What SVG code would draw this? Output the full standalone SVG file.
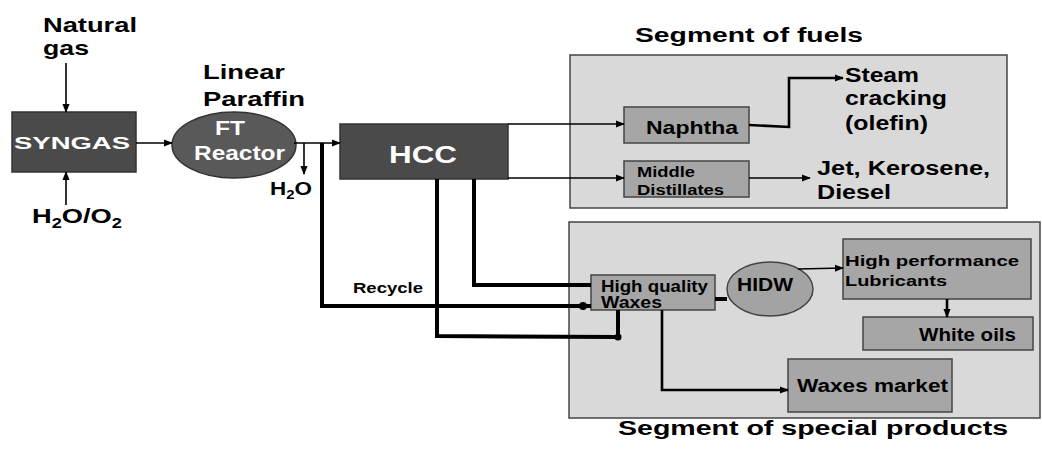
<svg xmlns="http://www.w3.org/2000/svg" width="1042" height="449" viewBox="0 0 1042 449">
<defs>
<marker id="ah" viewBox="0 0 10 10" refX="9" refY="5" markerWidth="5" markerHeight="5" orient="auto" markerUnits="userSpaceOnUse">
<path d="M0,1 L10,5 L0,9 Z" fill="#000"/>
</marker>
<marker id="ah2" viewBox="0 0 10 10" refX="9" refY="5" markerWidth="9" markerHeight="9" orient="auto" markerUnits="userSpaceOnUse">
<path d="M0,1 L10,5 L0,9 Z" fill="#000"/>
</marker>
<style>
text{font-family:"Liberation Sans",Arial,sans-serif;font-weight:bold;fill:#000}
.w{fill:#fff}
.dark{fill:#4a4a4a;stroke:#333;stroke-width:1.5}
.seg{fill:#d9d9d9;stroke:#444;stroke-width:1.5}
.box{fill:#a6a6a6;stroke:#444;stroke-width:1.5}
.thin{fill:none;stroke:#000;stroke-width:1.6}
.mid{fill:none;stroke:#000;stroke-width:2.6}
.thick{fill:none;stroke:#000;stroke-width:4}
</style>
</defs>
<rect width="1042" height="449" fill="#fff"/>

<g id="segment-fuels">
<rect class="seg" x="570" y="55" width="437" height="153"/>
<text x="635" y="42" font-size="20" textLength="228" lengthAdjust="spacingAndGlyphs">Segment of fuels</text>
</g>
<g id="segment-special">
<rect class="seg" x="569" y="222" width="471" height="196"/>
<text x="618" y="435" font-size="20" textLength="390" lengthAdjust="spacingAndGlyphs">Segment of special products</text>
</g>

<g id="natural-gas">
<text x="43" y="32" font-size="21" textLength="94" lengthAdjust="spacingAndGlyphs">Natural</text>
<text x="43" y="55" font-size="21" textLength="46" lengthAdjust="spacingAndGlyphs">gas</text>
</g>
<g id="h2o-o2">
<text x="32" y="223" font-size="21" textLength="90" lengthAdjust="spacingAndGlyphs">H<tspan font-size="14" dy="5">2</tspan><tspan dy="-5">O/O</tspan><tspan font-size="14" dy="5">2</tspan></text>
</g>
<g id="syngas">
<rect class="dark" x="12" y="112" width="124" height="60"/>
<text class="w" x="14" y="149" font-size="17" textLength="116" lengthAdjust="spacingAndGlyphs">SYNGAS</text>
</g>
<g id="ft-reactor">
<text x="203" y="79" font-size="21" textLength="82" lengthAdjust="spacingAndGlyphs">Linear</text>
<text x="203" y="106" font-size="21" textLength="102" lengthAdjust="spacingAndGlyphs">Paraffin</text>
<ellipse cx="234" cy="145" rx="62" ry="33" fill="#595959" stroke="#333" stroke-width="1.5"/>
<text class="w" x="215" y="135" font-size="20" textLength="30" lengthAdjust="spacingAndGlyphs">FT</text>
<text class="w" x="194" y="160" font-size="20" textLength="91" lengthAdjust="spacingAndGlyphs">Reactor</text>
</g>
<g id="h2o">
<text x="270" y="195" font-size="18" textLength="42" lengthAdjust="spacingAndGlyphs">H<tspan font-size="12" dy="4">2</tspan><tspan dy="-4">O</tspan></text>
</g>
<g id="hcc">
<rect class="dark" x="340" y="124" width="168" height="55"/>
<text class="w" x="389" y="163" font-size="24" textLength="68" lengthAdjust="spacingAndGlyphs">HCC</text>
</g>
<g id="naphtha">
<rect class="box" x="624" y="107" width="125" height="36"/>
<text x="646" y="134" font-size="19" textLength="92" lengthAdjust="spacingAndGlyphs">Naphtha</text>
</g>
<g id="middle-distillates">
<rect class="box" x="624" y="161" width="125" height="36"/>
<text x="637" y="177" font-size="14" textLength="58" lengthAdjust="spacingAndGlyphs">Middle</text>
<text x="637" y="195" font-size="14" textLength="87" lengthAdjust="spacingAndGlyphs">Distillates</text>
</g>
<g id="steam-cracking">
<text x="845" y="82" font-size="20" textLength="74" lengthAdjust="spacingAndGlyphs">Steam</text>
<text x="845" y="105" font-size="20" textLength="102" lengthAdjust="spacingAndGlyphs">cracking</text>
<text x="845" y="130" font-size="20" textLength="83" lengthAdjust="spacingAndGlyphs">(olefin)</text>
</g>
<g id="jet-kerosene-diesel">
<text x="817" y="175" font-size="20" textLength="173" lengthAdjust="spacingAndGlyphs">Jet, Kerosene,</text>
<text x="817" y="199" font-size="20" textLength="74" lengthAdjust="spacingAndGlyphs">Diesel</text>
</g>
<g id="recycle">
<text x="353" y="293" font-size="15" textLength="70" lengthAdjust="spacingAndGlyphs">Recycle</text>
</g>
<g id="high-quality-waxes">
<rect class="box" x="591" y="275" width="124" height="35"/>
<text x="601" y="292" font-size="16" textLength="107" lengthAdjust="spacingAndGlyphs">High quality</text>
<text x="601" y="308" font-size="16" textLength="61" lengthAdjust="spacingAndGlyphs">Waxes</text>
</g>
<g id="hidw">
<ellipse cx="770" cy="289" rx="43" ry="27" fill="#a3a3a3" stroke="#444" stroke-width="1.5"/>
<text x="737" y="291" font-size="19" textLength="56" lengthAdjust="spacingAndGlyphs">HIDW</text>
</g>
<g id="lubricants">
<rect class="box" x="843" y="239" width="188" height="60"/>
<text x="845" y="266" font-size="15" textLength="174" lengthAdjust="spacingAndGlyphs">High performance</text>
<text x="845" y="286" font-size="15" textLength="102" lengthAdjust="spacingAndGlyphs">Lubricants</text>
</g>
<g id="white-oils">
<rect class="box" x="863" y="317" width="170" height="33"/>
<text x="919" y="341" font-size="18" textLength="97" lengthAdjust="spacingAndGlyphs">White oils</text>
</g>
<g id="waxes-market">
<rect class="box" x="788" y="359" width="164" height="53"/>
<text x="797" y="392" font-size="18" textLength="151" lengthAdjust="spacingAndGlyphs">Waxes market</text>
</g>

<g id="connectors">
<line class="thin" x1="66" y1="63" x2="66" y2="112" marker-end="url(#ah2)"/>
<line class="thin" x1="66" y1="205" x2="66" y2="172" marker-end="url(#ah2)"/>
<line class="thin" x1="136" y1="143" x2="172" y2="143" marker-end="url(#ah2)"/>
<line class="thin" x1="294" y1="143" x2="340" y2="143" marker-end="url(#ah2)"/>
<line class="thin" x1="304" y1="143" x2="304" y2="174" marker-end="url(#ah2)"/>
<polyline class="thick" points="322,143 322,306 591,306"/>
<circle cx="583" cy="306" r="4" fill="#000"/>
<polyline class="thick" points="474,179 474,285 591,285"/>
<polyline class="thick" points="437,179 437,336 618,337 618,310"/>
<circle cx="618" cy="337" r="3.5" fill="#000"/>
<line class="thin" x1="508" y1="124" x2="624" y2="124" marker-end="url(#ah2)"/>
<line class="thin" x1="508" y1="178" x2="624" y2="178" marker-end="url(#ah2)"/>
<polyline class="mid" points="749,125 789,127 789,78 843,78" marker-end="url(#ah2)"/>
<line class="thin" x1="749" y1="178" x2="810" y2="178" marker-end="url(#ah2)"/>
<line class="thick" x1="715" y1="299" x2="727" y2="299"/>
<line class="thin" x1="798" y1="269" x2="843" y2="268" marker-end="url(#ah2)"/>
<line class="mid" x1="947" y1="299" x2="947" y2="317" marker-end="url(#ah2)"/>
<polyline class="mid" points="662,310 662,390 788,390" marker-end="url(#ah2)"/>
</g>
</svg>
